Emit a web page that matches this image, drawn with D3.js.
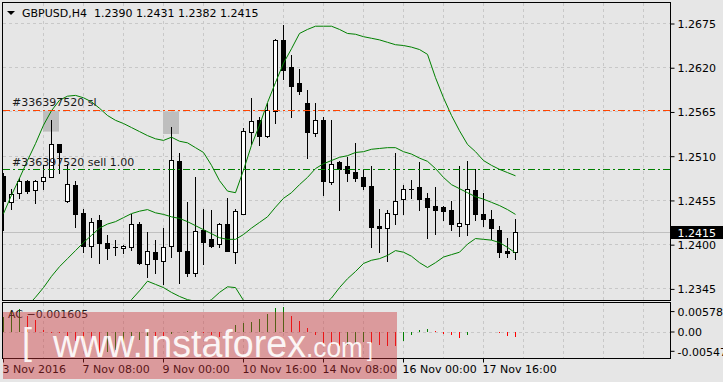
<!DOCTYPE html>
<html>
<head>
<meta charset="utf-8">
<script src="https://cdnjs.cloudflare.com/ajax/libs/d3/7.8.5/d3.min.js"></script>
<style>
  html, body { margin: 0; padding: 0; background: #e6e6e6; overflow: hidden; }
  svg { display: block; font-family: "DejaVu Sans", sans-serif; font-size: 11px; }
</style>
</head>
<body>
<script>

// GBPUSD H4 bars, 3 Nov 16:00 .. 18 Nov 08:00
var opens = [1.2485, 1.2453, 1.2463, 1.2479, 1.2467, 1.2479, 1.2484, 1.2524, 1.2454, 1.2474,
    1.2439, 1.2398, 1.2430, 1.2401, 1.2397, 1.2395, 1.2396, 1.2425, 1.2375, 1.2390,
    1.2379, 1.2398, 1.2504, 1.2391, 1.2364, 1.2417, 1.2406, 1.2400, 1.2425, 1.2390,
    1.2438, 1.2540, 1.2554, 1.2534, 1.2565, 1.2654, 1.2620, 1.2600, 1.2576, 1.2538,
    1.2555, 1.2477, 1.2502, 1.2497, 1.2490, 1.2484, 1.2472, 1.2423, 1.2420, 1.2438,
    1.2456, 1.2469, 1.2471, 1.2457, 1.2448, 1.2446, 1.2442, 1.2423, 1.2425, 1.2467,
    1.2437, 1.2431, 1.2418, 1.2391, 1.2390];
var highs = [1.2489, 1.2469, 1.2482, 1.2480, 1.2480, 1.2498, 1.2555, 1.2525, 1.2500, 1.2479,
    1.2444, 1.2433, 1.2436, 1.2411, 1.2405, 1.2399, 1.2438, 1.2428, 1.2415, 1.2405,
    1.2420, 1.2546, 1.2513, 1.2452, 1.2483, 1.2444, 1.2442, 1.2426, 1.2457, 1.2444,
    1.2545, 1.2582, 1.2558, 1.2575, 1.2655, 1.2672, 1.2635, 1.2618, 1.2592, 1.2575,
    1.2558, 1.2555, 1.2503, 1.2508, 1.2526, 1.2494, 1.2497, 1.2444, 1.2442, 1.2513,
    1.2473, 1.2480, 1.2502, 1.2464, 1.2471, 1.2447, 1.2454, 1.2497, 1.2504, 1.2494,
    1.2464, 1.2443, 1.2422, 1.2408, 1.2431];
var lows = [1.2417, 1.2444, 1.2457, 1.2464, 1.2451, 1.2469, 1.2483, 1.2489, 1.2453, 1.2421,
    1.2390, 1.2384, 1.2377, 1.2382, 1.2386, 1.2389, 1.2393, 1.2375, 1.2359, 1.2364,
    1.2351, 1.2384, 1.2352, 1.2361, 1.2361, 1.2375, 1.2396, 1.2396, 1.2391, 1.2376,
    1.2437, 1.2525, 1.2523, 1.2533, 1.2551, 1.2605, 1.2558, 1.2587, 1.2507, 1.2534,
    1.2461, 1.2475, 1.2442, 1.2478, 1.2478, 1.2469, 1.2396, 1.2390, 1.2379, 1.2425,
    1.2438, 1.2457, 1.2442, 1.2408, 1.2413, 1.2430, 1.2417, 1.2410, 1.2412, 1.2430,
    1.2423, 1.2407, 1.2384, 1.2384, 1.2382];
var closes = [1.2454, 1.2462, 1.2478, 1.2466, 1.2479, 1.2484, 1.2525, 1.2514, 1.2475, 1.2438,
    1.2398, 1.2427, 1.2401, 1.2395, 1.2396, 1.2398, 1.2425, 1.2376, 1.2391, 1.2381,
    1.2397, 1.2505, 1.2391, 1.2364, 1.2416, 1.2403, 1.2398, 1.2425, 1.2391, 1.2441,
    1.2541, 1.2553, 1.2534, 1.2567, 1.2654, 1.2617, 1.2597, 1.2590, 1.2539, 1.2555,
    1.2478, 1.2500, 1.2494, 1.2489, 1.2482, 1.2472, 1.2421, 1.2420, 1.2439, 1.2454,
    1.2468, 1.2469, 1.2456, 1.2446, 1.2443, 1.2441, 1.2425, 1.2426, 1.2468, 1.2438,
    1.2431, 1.2420, 1.2390, 1.2389, 1.2415];

// Bollinger bands as drawn on the chart
var bandUpper = [1.2438, 1.2461, 1.2482, 1.2504, 1.2525, 1.2548, 1.2566, 1.2579, 1.2584, 1.2585,
    1.2582, 1.2577, 1.2569, 1.2560, 1.2554, 1.2550, 1.2545, 1.2540, 1.2535, 1.2531,
    1.2529, 1.2533, 1.2528, 1.2526, 1.2520, 1.2514, 1.2498, 1.2479, 1.2466, 1.2464,
    1.2492, 1.2523, 1.2548, 1.2576, 1.2601, 1.2625, 1.2643, 1.2662, 1.2667, 1.2671,
    1.2671, 1.2671, 1.2667, 1.2662, 1.2661, 1.2658, 1.2656, 1.2654, 1.2651, 1.2648,
    1.2647, 1.2645, 1.2642, 1.2636, 1.2607, 1.2582, 1.2560, 1.2541, 1.2524, 1.2515,
    1.2504, 1.2498, 1.2493, 1.2489, 1.2485];
var bandMiddle = [1.2293, 1.2303, 1.2313, 1.2323, 1.2334, 1.2346, 1.2360, 1.2372, 1.2382, 1.2392,
    1.2402, 1.2411, 1.2420, 1.2425, 1.2428, 1.2433, 1.2438, 1.2441, 1.2443, 1.2439,
    1.2437, 1.2434, 1.2432, 1.2428, 1.2423, 1.2418, 1.2413, 1.2408, 1.2406, 1.2406,
    1.2412, 1.2420, 1.2427, 1.2434, 1.2446, 1.2457, 1.2464, 1.2474, 1.2483, 1.2494,
    1.2500, 1.2504, 1.2508, 1.2510, 1.2514, 1.2515, 1.2518, 1.2519, 1.2520, 1.2520,
    1.2515, 1.2512, 1.2507, 1.2503, 1.2494, 1.2483, 1.2474, 1.2469, 1.2464, 1.2459,
    1.2456, 1.2452, 1.2448, 1.2443, 1.2437];
var bandLower = [1.2147, 1.2145, 1.2144, 1.2141, 1.2142, 1.2145, 1.2153, 1.2166, 1.2181, 1.2200,
    1.2222, 1.2244, 1.2270, 1.2289, 1.2303, 1.2316, 1.2331, 1.2342, 1.2354, 1.2350,
    1.2346, 1.2340, 1.2335, 1.2331, 1.2329, 1.2326, 1.2331, 1.2340, 1.2347, 1.2346,
    1.2330, 1.2318, 1.2305, 1.2293, 1.2285, 1.2283, 1.2285, 1.2294, 1.2305, 1.2315,
    1.2324, 1.2333, 1.2346, 1.2357, 1.2366, 1.2376, 1.2380, 1.2382, 1.2386, 1.2392,
    1.2390, 1.2385, 1.2377, 1.2371, 1.2377, 1.2384, 1.2387, 1.2390, 1.2400, 1.2407,
    1.2406, 1.2405, 1.2402, 1.2396, 1.2389];

// Accelerator Oscillator
var acValues = [0.0041, 0.0059, 0.0064, 0.0045, 0.0033, 0.0003, -0.0003, -0.0005, -0.0016, -0.0026,
    -0.0037, -0.0048, -0.0060, -0.0058, -0.0052, -0.0045, -0.0035, -0.0024, -0.0012, -0.0014,
    -0.0019, -0.0006, -0.0002, 0.0001, 0.0002, -0.0003, -0.0010, -0.0016, -0.0004, 0.0018,
    0.0023, 0.0027, 0.0036, 0.0050, 0.0068, 0.0070, 0.0045, 0.0031, 0.0010, -0.0011,
    -0.0036, -0.0038, -0.0040, -0.0038, -0.0036, -0.0031, -0.0034, -0.0037, -0.0040, -0.0042,
    -0.0027, -0.0011, 0.0004, 0.0006, 0.0001, -0.0007, -0.0011, -0.0018, -0.0009, -0.0002,
    0.0000, -0.0001, -0.0004, -0.0013, -0.001605];

var priceTicks = [1.2345, 1.2400, 1.2455, 1.2510, 1.2565, 1.2620, 1.2675];
var acTicks = [0.005787, 0, -0.005476];
var acTickLabels = ["0.005787", "0.00", "-0.005476"];
var timeTickBars = [0, 10, 20, 30, 40, 50, 60];
var timeTickLabels = ["3 Nov 2016", "7 Nov 08:00", "9 Nov 00:00", "10 Nov 16:00",
    "14 Nov 08:00", "16 Nov 00:00", "17 Nov 16:00"];

var symbol = "GBPUSD,H4";
var orderId = "#336397520";
var slPrice = 1.2567;
var entryPrice = 1.2493;
var orderMarks = [{ bar: 5, top: 1.2566, bottom: 1.2540 }, { bar: 20, top: 1.2565, bottom: 1.2537 }];

var width = 723;
var height = 382;
var right = 670.5;

const svg = d3.select("body")
    .append("svg")
    .attr("width", width)
    .attr("height", height);

var x = d3.scaleLinear().domain([0, 64]).range([3, 515]);
var y = d3.scaleLinear().domain([1.2345, 1.2675]).range([288.4, 23]);
var yAc = d3.scaleLinear().domain([-0.00751, 0.00822]).range([358, 302.5]);
var px = function (i) { return Math.round(x(i)) + 0.5; };
var fmt4 = d3.format(".4f");

var defs = svg.append("defs");
defs.append("clipPath").attr("id", "mainClip")
    .append("rect").attr("x", 3).attr("y", 3).attr("width", 667).attr("height", 297);
defs.append("clipPath").attr("id", "acClip")
    .append("rect").attr("x", 3).attr("y", 303).attr("width", 667).attr("height", 55);

// grid
var gridBars = d3.range(5, 81, 5);
const grid = svg.append("g")
    .attr("stroke", "#c8c8c8")
    .attr("stroke-dasharray", "3,3");
grid.selectAll("line.v")
    .data(gridBars)
    .enter()
    .append("line")
    .attr("x1", function (d) { return px(d) }).attr("x2", function (d) { return px(d) })
    .attr("y1", 3).attr("y2", 300);
grid.selectAll("line.va")
    .data(gridBars)
    .enter()
    .append("line")
    .attr("x1", function (d) { return px(d) }).attr("x2", function (d) { return px(d) })
    .attr("y1", 303).attr("y2", 358);
grid.selectAll("line.h")
    .data(priceTicks)
    .enter()
    .append("line")
    .attr("x1", 3).attr("x2", 670)
    .attr("y1", function (d) { return Math.round(y(d)) + 0.5 })
    .attr("y2", function (d) { return Math.round(y(d)) + 0.5 });
grid.append("line")
    .attr("x1", 3).attr("x2", 670)
    .attr("y1", Math.round(yAc(0)) + 0.5).attr("y2", Math.round(yAc(0)) + 0.5);

const plot = svg.append("g").attr("clip-path", "url(#mainClip)");

// current price line
var last = opens.length - 1;
plot.append("line")
    .attr("x1", 3).attr("x2", 670)
    .attr("y1", Math.round(y(closes[last])) + 0.5)
    .attr("y2", Math.round(y(closes[last])) + 0.5)
    .attr("stroke", "#c0c0c0");

// order marks
plot.selectAll("rect.mark")
    .data(orderMarks)
    .enter()
    .append("rect")
    .attr("x", function (d) { return x(d.bar) })
    .attr("width", function (d) { return x(d.bar + 2) - x(d.bar) })
    .attr("y", function (d) { return y(d.top) })
    .attr("height", function (d) { return y(d.bottom) - y(d.top) })
    .attr("fill", "#bebebe");

// candles
var bars = d3.range(opens.length).map(function (i) {
    return { i: i, o: opens[i], h: highs[i], l: lows[i], c: closes[i] };
});
const candle = plot.selectAll("g.candle")
    .data(bars)
    .enter()
    .append("g");
candle.append("line")
    .attr("x1", function (d) { return px(d.i) }).attr("x2", function (d) { return px(d.i) })
    .attr("y1", function (d) { return Math.round(y(d.h)) })
    .attr("y2", function (d) { return Math.round(y(d.l)) + 1 })
    .attr("stroke", "#000");
candle.each(function (d) {
    var g = d3.select(this);
    var top = Math.round(y(Math.max(d.o, d.c)));
    var bot = Math.round(y(Math.min(d.o, d.c)));
    var cx = px(d.i);
    if (bot - top < 1) {
        g.append("line")
            .attr("x1", cx - 2.5).attr("x2", cx + 2.5)
            .attr("y1", top + 0.5).attr("y2", top + 0.5)
            .attr("stroke", "#000");
    } else {
        g.append("rect")
            .attr("x", cx - 2).attr("y", top + 0.5)
            .attr("width", 4).attr("height", bot - top)
            .attr("fill", d.c >= d.o ? "#fff" : "#000")
            .attr("stroke", "#000");
    }
});

// bollinger bands
var bandLine = d3.line()
    .x(function (d, i) { return px(i) })
    .y(function (d) { return y(d) });
[bandUpper, bandMiddle, bandLower].forEach(function (band) {
    plot.append("path")
        .attr("d", bandLine(band))
        .attr("fill", "none")
        .attr("stroke", "#008000")
        .attr("stroke-width", 1);
});

// order levels
plot.append("line")
    .attr("x1", 3).attr("x2", 670)
    .attr("y1", Math.round(y(slPrice)) + 0.5).attr("y2", Math.round(y(slPrice)) + 0.5)
    .attr("stroke", "#ff4500")
    .attr("stroke-dasharray", "7,3,2,3");
plot.append("line")
    .attr("x1", 3).attr("x2", 670)
    .attr("y1", Math.round(y(entryPrice)) + 0.5).attr("y2", Math.round(y(entryPrice)) + 0.5)
    .attr("stroke", "#008000")
    .attr("stroke-dasharray", "7,3,2,3");
plot.append("text")
    .attr("x", 12).attr("y", y(slPrice) - 4)
    .attr("fill", "#1a1a1a")
    .text(orderId + " sl");
plot.append("text")
    .attr("x", 12).attr("y", y(entryPrice) - 3.5)
    .attr("fill", "#1a1a1a")
    .text(orderId + " sell 1.00");

// title
svg.append("path").attr("d", "M7,11L15,11L11,15Z").attr("fill", "#000");
svg.append("text")
    .attr("x", 22).attr("y", 17)
    .style("white-space", "pre")
    .attr("fill", "#000")
    .text(symbol + "  " + [opens[last], highs[last], lows[last], closes[last]].map(fmt4).join(" "));

// AC histogram
const acPlot = svg.append("g").attr("clip-path", "url(#acClip)");
acPlot.selectAll("line.ac")
    .data(acValues)
    .enter()
    .append("line")
    .attr("x1", function (d, i) { return px(i) }).attr("x2", function (d, i) { return px(i) })
    .attr("y1", Math.round(yAc(0)))
    .attr("y2", function (d) { return Math.round(yAc(d)) })
    .attr("stroke", function (d, i) { return (i === 0 || d > acValues[i - 1]) ? "#008000" : "#ff0000" });
svg.append("text")
    .attr("x", 8).attr("y", 318)
    .attr("fill", "#1a1a1a")
    .text("AC " + d3.format(".6f")(acValues[last]));

// frames
svg.append("rect").attr("x", 2.5).attr("y", 2.5).attr("width", right - 2.5).attr("height", 298)
    .attr("fill", "none").attr("stroke", "#000");
svg.append("rect").attr("x", 2.5).attr("y", 302.5).attr("width", right - 2.5).attr("height", 56)
    .attr("fill", "none").attr("stroke", "#000");

// price axis
const priceAxis = svg.append("g")
    .attr("transform", "translate(" + right + ",0)")
    .call(d3.axisRight(y).tickValues(priceTicks).tickSize(4).tickFormat(fmt4));
priceAxis.select(".domain").remove();
priceAxis.selectAll("text").attr("font-family", "DejaVu Sans").attr("font-size", 11).attr("fill", "#000").attr("dy", "0.4em");
priceAxis.selectAll("line").attr("transform", "translate(0,0.5)");

const acAxis = svg.append("g")
    .attr("transform", "translate(" + right + ",0)")
    .call(d3.axisRight(yAc).tickValues(acTicks).tickSize(4)
        .tickFormat(function (d, i) { return acTickLabels[i] }));
acAxis.select(".domain").remove();
acAxis.selectAll("text").attr("font-family", "DejaVu Sans").attr("font-size", 11).attr("fill", "#000").attr("dy", "0.4em");

// current price tag
svg.append("rect")
    .attr("x", 671).attr("y", Math.round(y(closes[last])) - 6)
    .attr("width", 52).attr("height", 13)
    .attr("fill", "#000");
svg.append("text")
    .attr("x", 677.5).attr("y", y(closes[last]))
    .attr("dy", "0.4em")
    .attr("fill", "#fff")
    .text(fmt4(closes[last]));

// time axis
const timeAxis = svg.append("g")
    .attr("transform", "translate(0,358.5)")
    .call(d3.axisBottom(x).tickValues(timeTickBars).tickSize(4)
        .tickFormat(function (d, i) { return timeTickLabels[i] }));
timeAxis.select(".domain").remove();
timeAxis.selectAll(".tick").attr("transform", function (d) { return "translate(" + px(d) + ",0)" });
timeAxis.selectAll("text")
    .attr("font-family", "DejaVu Sans").attr("font-size", 11).attr("fill", "#000")
    .attr("text-anchor", "start").attr("dx", -1);

// watermark
const wm = svg.append("g");
wm.append("rect")
    .attr("x", 3).attr("y", 312).attr("width", 394).attr("height", 67)
    .attr("fill", "rgb(205,50,55)").attr("opacity", 0.42);
const wmText = wm.append("g")
    .attr("fill", "#fff").attr("opacity", 0.9)
    .attr("font-family", "Liberation Sans, Arial, sans-serif");
wmText.append("text").attr("x", 22).attr("y", 354).attr("font-size", 36).text("[");
wmText.append("text").attr("x", 53).attr("y", 357).attr("font-size", 38.5)
    .attr("textLength", 253).attr("lengthAdjust", "spacingAndGlyphs").text("www.instaforex");
wmText.append("text").attr("x", 306).attr("y", 357).attr("font-size", 27)
    .attr("textLength", 57).attr("lengthAdjust", "spacingAndGlyphs").text(".com");
wmText.append("text").attr("x", 367).attr("y", 357).attr("font-size", 21).text("]");

</script>
</body>
</html>
